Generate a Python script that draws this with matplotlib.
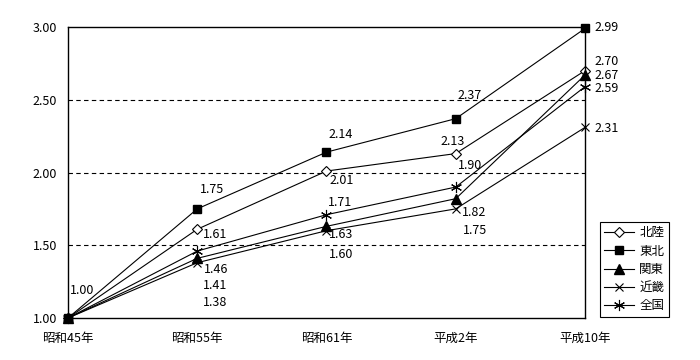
import matplotlib
matplotlib.use("Agg")
import matplotlib.pyplot as plt

plt.rcParams['font.family'] = ['Noto Sans CJK JP', 'DejaVu Sans']

# data
years = ['昭和45年', '昭和55年', '昭和61年', '平成2年', '平成10年']
hokuriku = [1.00, 1.61, 2.01, 2.13, 2.70]
tohoku = [1.00, 1.75, 2.14, 2.37, 2.99]
kanto = [1.00, 1.41, 1.63, 1.82, 2.67]
kinki = [1.00, 1.38, 1.60, 1.75, 2.31]
zenkoku = [1.00, 1.46, 1.71, 1.90, 2.59]
names = ['北陸', '東北', '関東', '近畿', '全国']
yticks = [1.00, 1.50, 2.00, 2.50, 3.00]

series = [hokuriku, tohoku, kanto, kinki, zenkoku]
markers = [dict(marker='D', ms=5.5, mfc='white', mec='black', mew=0.8),
           dict(marker='s', ms=6, mfc='black', mec='black'),
           dict(marker='^', ms=6.5, mfc='black', mec='black'),
           dict(marker='x', ms=6, mec='black', mew=0.8),
           dict(marker=(6, 2, 0), ms=8, mec='black', mew=0.8)]

# label offsets in pixels (dx, dy) per series per point; None = no label
offsets = [
    [None, (18, -5), (15, -9), (-3, 12), (22, 9)],
    [None, (15, 19), (14, 18), (14, 23), (22, 1)],
    [None, (18, -27), (15, -8), (18, -14), (22, 0)],
    [None, (18, -40), (15, -24), (19, -22), (22, -1)],
    [(14, 27), (19, -18), (14, 12), (14, 22), (22, -2)],
]

fig = plt.figure(figsize=(7, 3.6), dpi=100)
ax = fig.add_axes([68 / 700, 42 / 360, 517 / 700, 291 / 360])
x = list(range(len(years)))

handles = []
for vals, mk, name, offs in zip(series, markers, names, offsets):
    h, = ax.plot(x, vals, color='black', lw=0.8, label=name, clip_on=False, **mk)
    handles.append(h)
    for xi, v, o in zip(x, vals, offs):
        if o is None:
            continue
        ax.annotate(f'{v:.2f}', (xi, v), xytext=o, textcoords='offset pixels',
                    ha='center', va='center', fontsize=9)

for yv in [1.5, 2.0, 2.5]:
    ax.axhline(yv, color='black', lw=0.8, ls=(0, (4, 3)), zorder=0)

ax.set_xlim(0, len(years) - 1)
ax.set_ylim(1.0, 3.0)
ax.set_xticks(x)
ax.set_xticklabels(years, fontsize=9)
ax.set_yticks(yticks)
ax.set_yticklabels([f'{t:.2f}' for t in yticks], fontsize=9)
ax.tick_params(length=0)
ax.tick_params(axis='x', pad=10)
ax.tick_params(axis='y', pad=8)
for s in ax.spines.values():
    s.set_linewidth(1.0)
    s.set_color('black')

leg = fig.legend(handles=handles, loc='upper left',
                 bbox_to_anchor=(600 / 700, 1 - 222 / 360),
                 fontsize=9, frameon=True, fancybox=False, framealpha=1,
                 edgecolor='black', handlelength=2.4, handletextpad=0.4,
                 borderpad=0.35, labelspacing=0.42, borderaxespad=0)
leg.get_frame().set_linewidth(0.8)

fig.savefig('out.png', dpi=100)
